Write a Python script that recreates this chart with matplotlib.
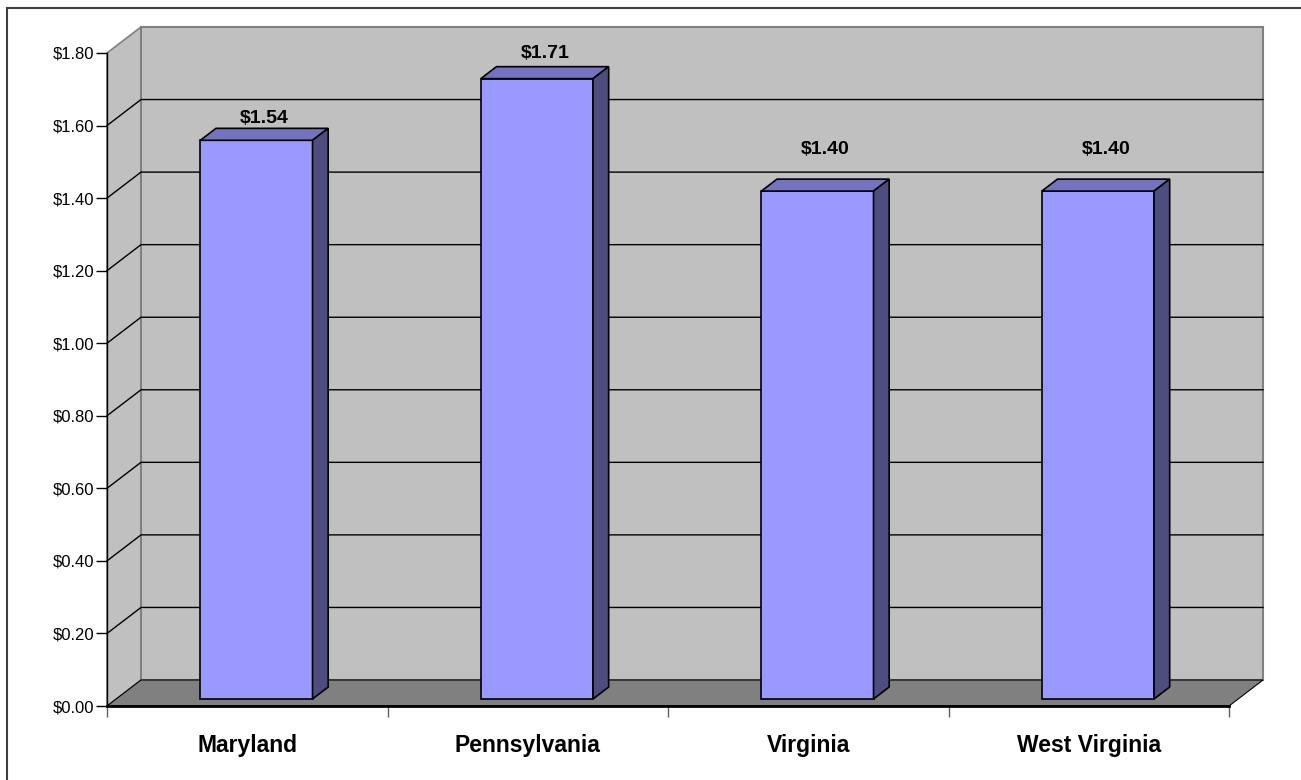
import matplotlib
matplotlib.use("Agg")
import matplotlib.pyplot as plt
from matplotlib.patches import Polygon
from matplotlib.lines import Line2D
from matplotlib.transforms import IdentityTransform

# Chart data
states = ["Maryland", "Pennsylvania", "Virginia", "West Virginia"]
prices = [1.54, 1.71, 1.40, 1.40]
y_ticks = [0.0, 0.2, 0.4, 0.6, 0.8, 1.0, 1.2, 1.4, 1.6, 1.8]

# Style
label_pad_px = [22, 25, 42, 42]   # Excel put the value labels at uneven heights
DEPTH = (34, 26)                   # 3D depth of the plot box, display pixels
BAR_D0, BAR_D1 = 0.27, 0.73        # bar depth inside the box
BAR_HALF = 0.2
FRONT, TOP, SIDE = "#9999FF", "#7373BF", "#4D4D80"
WALL, FLOOR = "#C0C0C0", "#808080"

plt.rcParams['font.family'] = ['Liberation Sans', 'DejaVu Sans']

W, H = 1301, 780
fig = plt.figure(figsize=(W / 100, H / 100), dpi=100)
ax = fig.add_axes([107 / W, (H - 706) / H, (1229 - 107) / W, (706 - 53) / H])
ax.set_facecolor("none")
ax.set_xlim(-0.5, len(states) - 0.5)
ax.set_ylim(y_ticks[0], y_ticks[-1])
x0, x1 = ax.get_xlim()
ymax = y_ticks[-1]


def proj(x, y, d):
    px, py = ax.transData.transform((x, y))
    return (px + d * DEPTH[0], py + d * DEPTH[1])


def face(points, fc, ec, lw, z):
    ax.add_patch(Polygon([proj(*p) for p in points], closed=True, facecolor=fc,
                         edgecolor=ec, linewidth=lw, transform=IdentityTransform(),
                         clip_on=False, zorder=z))


# Walls and floor
face([(x0, 0, 0), (x0, ymax, 0), (x0, ymax, 1), (x0, 0, 1)], WALL, "#808080", 1.2, 1)
face([(x0, 0, 1), (x1, 0, 1), (x1, ymax, 1), (x0, ymax, 1)], WALL, "#808080", 1.5, 1)

# Gridlines on the walls
for v in y_ticks[1:-1]:
    pts = [proj(x0, v, 0), proj(x0, v, 1), proj(x1, v, 1)]
    ax.add_line(Line2D([p[0] for p in pts], [p[1] for p in pts], color="black",
                       linewidth=1, transform=IdentityTransform(), clip_on=False, zorder=2))

face([(x0, 0, 0), (x1, 0, 0), (x1, 0, 1), (x0, 0, 1)], FLOOR, "black", 0.8, 3)

# Bars
for i, v in enumerate(prices):
    l, r = i - BAR_HALF, i + BAR_HALF
    face([(l, 0, BAR_D0), (r, 0, BAR_D0), (r, v, BAR_D0), (l, v, BAR_D0)], FRONT, "black", 1.2, 5)
    face([(l, v, BAR_D0), (r, v, BAR_D0), (r, v, BAR_D1), (l, v, BAR_D1)], TOP, "black", 1.2, 5)
    face([(r, 0, BAR_D0), (r, 0, BAR_D1), (r, v, BAR_D1), (r, v, BAR_D0)], SIDE, "black", 1.2, 5)

    lx = proj(i, v, 0.5)[0]
    ly = proj(i, v, BAR_D0)[1] + label_pad_px[i]
    ax.text(lx, ly, f"${v:.2f}", transform=IdentityTransform(), ha="center", va="center",
            fontsize=14, fontweight="bold", zorder=6)

# Axes
for s in ["top", "right"]:
    ax.spines[s].set_visible(False)
ax.spines["left"].set_linewidth(1)
ax.spines["bottom"].set_linewidth(2)
ax.spines["left"].set_zorder(7)
ax.spines["bottom"].set_zorder(7)

ax.set_yticks(y_ticks)
ax.set_yticklabels([f"${t:.2f}" for t in y_ticks])
ax.tick_params(axis="y", direction="out", length=8, width=1, pad=1, labelsize=12)

ax.set_xticks([k - 0.5 for k in range(len(states) + 1)])
ax.set_xticklabels([])
ax.tick_params(axis="x", which="major", direction="out", length=8, width=1, color="#606060")
ax.set_xticks(range(len(states)), minor=True)
ax.set_xticklabels(states, minor=True, fontsize=16.5, fontweight="bold")
ax.tick_params(axis="x", which="minor", length=0, pad=20)

# Chart-area border
fig.add_artist(Line2D([7 / W, 1], [(H - 8) / H] * 2, color="#404040", linewidth=1.5))
fig.add_artist(Line2D([7 / W] * 2, [0, (H - 8) / H], color="#404040", linewidth=1.5))

fig.savefig("out.png", dpi=100)
